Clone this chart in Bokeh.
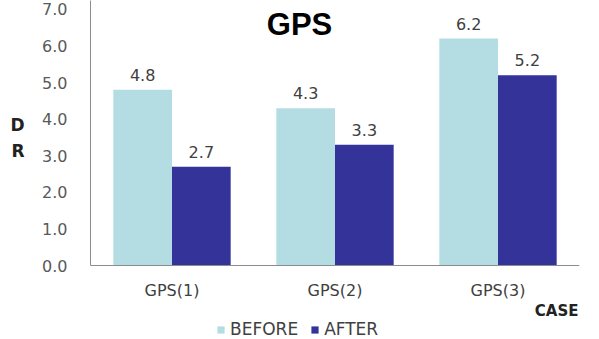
from bokeh.plotting import figure
from bokeh.models import (FactorRange, Range1d, FixedTicker, ColumnDataSource,
                          LabelSet, Label, Legend, LegendItem, LinearAxis)
from bokeh.core.properties import value
from bokeh.transform import dodge
from bokeh.embed import file_html
from bokeh.resources import INLINE

cases = ["GPS(1)", "GPS(2)", "GPS(3)"]
before = [4.8, 4.3, 6.2]
after = [2.7, 3.3, 5.2]
before_txt = ["4.8", "4.3", "6.2"]
after_txt = ["2.7", "3.3", "5.2"]
y_ticks = [0, 1, 2, 3, 4, 5, 6, 7]
y_tick_labels = {t: f"{t:.1f}" for t in y_ticks}
y_title = ["D", "R"]

src = ColumnDataSource(dict(cases=cases, before=before, after=after,
                            before_txt=before_txt, after_txt=after_txt))

BEFORE_C = "#B3DDE2"
AFTER_C = "#333399"
FONT = "DejaVu Sans"
Y_MIN, Y_MAX = -2.02, 7.24

p = figure(x_range=FactorRange(*cases, range_padding=0),
           y_range=Range1d(Y_MIN, Y_MAX),
           width=599, height=339, output_backend="svg", toolbar_location=None,
           min_border_left=90, min_border_right=20, min_border_top=0,
           min_border_bottom=0)
p.outline_line_color = None
p.xgrid.grid_line_color = None
p.ygrid.grid_line_color = None
p.background_fill_color = "white"
p.border_fill_color = "white"

rb = p.vbar(x=dodge("cases", -0.18, range=p.x_range), top="before", width=0.36,
            source=src, fill_color=BEFORE_C, line_color=None)
ra = p.vbar(x=dodge("cases", 0.18, range=p.x_range), top="after", width=0.36,
            source=src, fill_color=AFTER_C, line_color=None)

for col, ycol, off in (("before_txt", "before", -0.18), ("after_txt", "after", 0.18)):
    p.add_layout(LabelSet(x=dodge("cases", off, range=p.x_range), y=ycol, text=col,
                          source=src, y_offset=9, text_align="center",
                          text_baseline="alphabetic", text_font=value(FONT),
                          text_font_size="16px", text_color="#404040"))

# y axis
p.yaxis.ticker = FixedTicker(ticks=y_ticks)
p.yaxis.bounds = (0, Y_MAX)
p.yaxis.major_label_overrides = y_tick_labels
p.yaxis.major_label_text_font = FONT
p.yaxis.major_label_text_font_size = "16px"
p.yaxis.major_label_text_color = "#595959"
p.yaxis.major_label_standoff = 23
p.yaxis.major_tick_line_color = None
p.yaxis.major_tick_out = 0
p.yaxis.major_tick_in = 0
p.yaxis.minor_tick_line_color = None
p.yaxis.minor_tick_out = 0
p.yaxis.axis_line_color = "#8C8C8C"

# y-axis title ("D" over "R") as an outer axis
p.extra_y_ranges = {"title": Range1d(Y_MIN, Y_MAX)}
dr_axis = LinearAxis(y_range_name="title", ticker=FixedTicker(ticks=[3.83, 3.14]),
                     major_label_overrides={3.83: y_title[0], 3.14: y_title[1]},
                     axis_line_color=None, major_tick_line_color=None,
                     minor_tick_line_color=None, major_tick_out=0, major_tick_in=0,
                     minor_tick_out=0, major_label_standoff=15,
                     major_label_text_font=FONT, major_label_text_font_style="bold",
                     major_label_text_font_size="17px", major_label_text_color="#222222")
p.add_layout(dr_axis, "left")

# x axis, pinned at y = 0
p.xaxis.fixed_location = 0
p.xaxis.major_label_text_font = FONT
p.xaxis.major_label_text_font_size = "16px"
p.xaxis.major_label_text_color = "#404040"
p.xaxis.major_label_standoff = 15
p.xaxis.major_tick_line_color = None
p.xaxis.major_tick_out = 0
p.xaxis.minor_tick_line_color = None
p.xaxis.axis_line_color = "#8C8C8C"

# title inside the plot
p.add_layout(Label(x=209, y=315, x_units="screen", y_units="screen", text="GPS",
                   text_font="Liberation Sans", text_font_style="bold",
                   text_font_size="31px", text_align="center",
                   text_baseline="middle", text_color="#000000"))

# x-axis title
p.add_layout(Label(x=488, y=29, x_units="screen", y_units="screen", text="CASE",
                   text_font=FONT, text_font_style="bold", text_font_size="15px",
                   text_align="right", text_baseline="middle", text_color="#222222"))

legend = Legend(items=[LegendItem(label="BEFORE", renderers=[rb]),
                       LegendItem(label="AFTER", renderers=[ra])],
                orientation="horizontal", location=(126, 0),
                padding=0, margin=0, spacing=12, label_standoff=5,
                glyph_width=9, glyph_height=9, border_line_color=None,
                background_fill_alpha=0, label_text_font=FONT,
                label_text_font_size="17px", label_text_color="#404040")
p.add_layout(legend, "center")

open("out.html", "w").write(file_html(p, INLINE))
